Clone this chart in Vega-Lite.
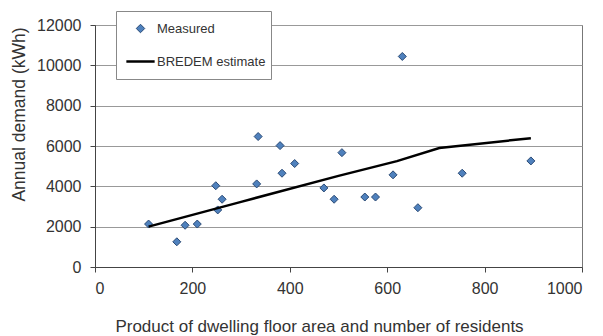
{
  "$schema": "https://vega.github.io/schema/vega-lite/v6.json",
  "width": 487,
  "height": 242,
  "autosize": "none",
  "padding": {"left": 95, "top": 25, "right": 21, "bottom": 69},
  "background": "white",
  "config": {
    "font": "Liberation Sans",
    "view": {"stroke": "#777", "strokeWidth": 1},
    "axis": {
      "labelFont": "Liberation Sans",
      "titleFont": "Liberation Sans",
      "labelColor": "#333",
      "titleColor": "#333",
      "labelFontSize": 16,
      "titleFontSize": 17,
      "titleFontWeight": "normal",
      "domainColor": "#444",
      "tickColor": "#444",
      "tickSize": 5,
      "gridColor": "#999",
      "gridWidth": 1
    }
  },
  "datasets": {
    "measured": [
      {"area_residents": 110, "demand": 2130},
      {"area_residents": 168, "demand": 1250},
      {"area_residents": 185, "demand": 2070},
      {"area_residents": 210, "demand": 2130},
      {"area_residents": 248, "demand": 4030},
      {"area_residents": 261, "demand": 3360},
      {"area_residents": 252, "demand": 2830},
      {"area_residents": 335, "demand": 6470},
      {"area_residents": 332, "demand": 4120},
      {"area_residents": 380, "demand": 6020},
      {"area_residents": 384, "demand": 4650},
      {"area_residents": 410, "demand": 5130},
      {"area_residents": 470, "demand": 3920},
      {"area_residents": 491, "demand": 3360},
      {"area_residents": 507, "demand": 5670},
      {"area_residents": 554, "demand": 3470},
      {"area_residents": 576, "demand": 3470},
      {"area_residents": 631, "demand": 10440},
      {"area_residents": 612, "demand": 4570},
      {"area_residents": 663, "demand": 2940},
      {"area_residents": 754, "demand": 4650},
      {"area_residents": 895, "demand": 5260}
    ],
    "bredem": [
      {"area_residents": 110, "demand": 2000},
      {"area_residents": 300, "demand": 3230},
      {"area_residents": 500, "demand": 4520},
      {"area_residents": 620, "demand": 5250},
      {"area_residents": 707, "demand": 5900},
      {"area_residents": 895, "demand": 6390}
    ]
  },
  "encoding": {
    "x": {
      "field": "area_residents",
      "type": "quantitative",
      "scale": {"domain": [0, 1000], "nice": false},
      "axis": {
        "values": [0, 200, 400, 600, 800, 1000],
        "format": "d",
        "grid": false,
        "labelPadding": 8,
        "title": "Product of dwelling floor area and number of residents",
        "titleX": 224,
        "titleY": 64,
        "titleAlign": "center",
        "titleBaseline": "alphabetic"
      }
    },
    "y": {
      "field": "demand",
      "type": "quantitative",
      "scale": {"domain": [0, 12000], "nice": false},
      "axis": {
        "values": [0, 2000, 4000, 6000, 8000, 10000, 12000],
        "format": "d",
        "grid": true,
        "labelPadding": 9,
        "title": "Annual demand (kWh)",
        "titleFontSize": 17.5,
        "titleAngle": 270,
        "titleX": -71,
        "titleY": 89,
        "titleAlign": "center",
        "titleBaseline": "alphabetic"
      }
    }
  },
  "resolve": {"legend": {"color": "independent"}},
  "layer": [
    {
      "data": {"name": "measured"},
      "mark": {"type": "point", "shape": "diamond", "filled": true, "size": 64, "stroke": "#2a4a75", "strokeWidth": 1, "opacity": 1},
      "encoding": {
        "color": {
          "datum": "Measured",
          "type": "nominal",
          "scale": {"domain": ["Measured", "BREDEM estimate"], "range": ["#4f81bd", "black"]},
          "legend": {
            "orient": "none",
            "legendX": 21,
            "legendY": -14,
            "title": null,
            "fillColor": "white",
            "strokeColor": "#888",
            "padding": 5,
            "clipHeight": 25,
            "rowPadding": 8,
            "symbolType": {"expr": "datum.value === 'Measured' ? 'M0,-0.6L0.6,0L0,0.6L-0.6,0Z' : 'M-2,0L2,0'"},
            "symbolSize": 200,
            "symbolFillColor": {"expr": "datum.value === 'Measured' ? '#4f81bd' : 'transparent'"},
            "symbolStrokeColor": {"expr": "datum.value === 'Measured' ? '#2a4a75' : 'black'"},
            "symbolStrokeWidth": {"expr": "datum.value === 'Measured' ? 1 : 2.5"},
            "symbolOpacity": 1,
            "symbolOffset": 13,
            "labelOffset": 10,
            "labelFont": "Liberation Sans",
            "labelFontSize": 13,
            "labelColor": "#333"
          }
        }
      }
    },
    {
      "data": {"name": "bredem"},
      "mark": {"type": "line", "strokeWidth": 2.5},
      "encoding": {
        "color": {"datum": "BREDEM estimate", "type": "nominal", "legend": null}
      }
    }
  ]
}
